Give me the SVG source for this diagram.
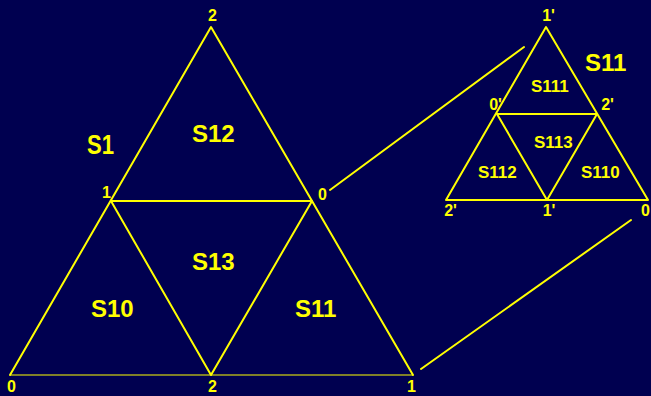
<svg xmlns="http://www.w3.org/2000/svg" width="651" height="396" viewBox="0 0 651 396">
<style>
.ln{stroke:#ffff00;stroke-width:2;fill:none;stroke-linejoin:round;stroke-linecap:round}
.thin{stroke:#ffff00;stroke-width:1.2;fill:none}
text{font-family:"Liberation Sans",Arial,sans-serif;font-weight:bold;fill:#ffff00}
.v{font-size:16px;text-anchor:middle}
.big{font-size:24px}
.sm{font-size:17px}
</style>
<rect x="0" y="0" width="651" height="396" fill="#000050"/>
<g id="S1">
<path class="ln" d="M10,375 L211,27 L413,375"/>
<line class="thin" x1="10" y1="375" x2="413" y2="375"/>
<path class="ln" d="M111,201 L312,201 L211,375 Z"/>
<text x="87" y="154" style="font-size:28px" textLength="27" lengthAdjust="spacingAndGlyphs">S1</text>
<text class="big" x="192" y="142">S12</text>
<text class="big" x="192" y="270">S13</text>
<text class="big" x="91" y="317">S10</text>
<text class="big" x="295" y="317">S11</text>
<text class="v" x="212.5" y="21">2</text>
<text class="v" x="106.5" y="198">1</text>
<text class="v" x="322.5" y="200">0</text>
<text class="v" x="11.5" y="392">0</text>
<text class="v" x="212.5" y="392">2</text>
<text class="v" x="411.5" y="392">1</text>
</g>
<g id="S11">
<path class="ln" d="M446,200 L546,27 L648,200 Z"/>
<path class="ln" d="M497,114 L597,114 L547,200 Z"/>
<text class="big" x="585" y="71">S11</text>
<text class="sm" x="531" y="92">S111</text>
<text class="sm" x="534" y="148">S113</text>
<text class="sm" x="478" y="178">S112</text>
<text class="sm" x="581" y="178">S110</text>
<text class="v" x="548.5" y="21">1'</text>
<text class="v" x="495.5" y="110">0'</text>
<text class="v" x="607.5" y="110">2'</text>
<text class="v" x="450.5" y="216">2'</text>
<text class="v" x="549" y="216">1'</text>
<text class="v" x="650" y="216" style="text-anchor:end">0</text>
</g>
<g id="connectors">
<line class="ln" x1="330" y1="190" x2="524" y2="47"/>
<line class="ln" x1="421" y1="369" x2="631" y2="220"/>
</g>
</svg>
